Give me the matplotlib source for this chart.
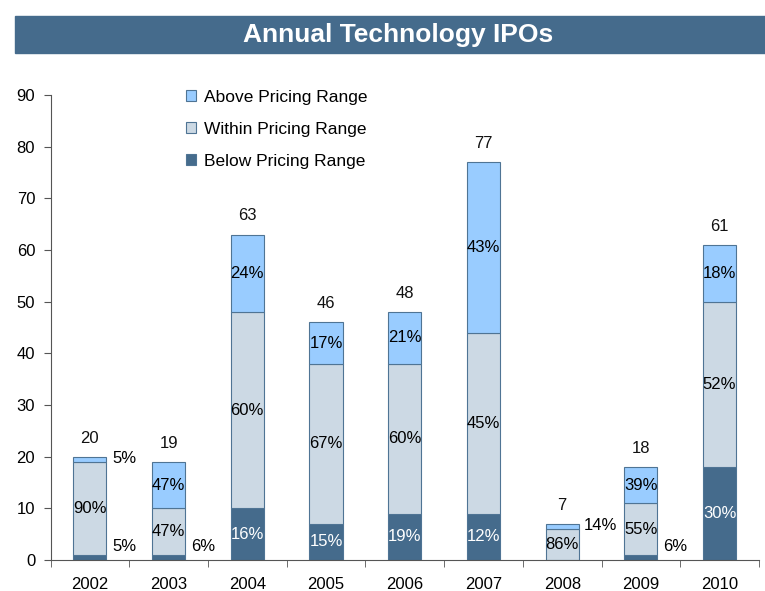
import matplotlib
matplotlib.use("Agg")
import matplotlib.pyplot as plt
from matplotlib.patches import Rectangle
import numpy as np

plt.rcParams['font.family'] = ['Liberation Sans', 'DejaVu Sans']

# data
years = ['2002', '2003', '2004', '2005', '2006', '2007', '2008', '2009', '2010']
below = [1, 1, 10, 7, 9, 9, 0, 1, 18]
within = [18, 9, 38, 31, 29, 35, 6, 10, 32]
above = [1, 9, 15, 8, 10, 33, 1, 7, 11]
totals = [20, 19, 63, 46, 48, 77, 7, 18, 61]
pct_below = ['5%', '6%', '16%', '15%', '19%', '12%', '', '6%', '30%']
pct_within = ['90%', '47%', '60%', '67%', '60%', '45%', '86%', '55%', '52%']
pct_above = ['5%', '47%', '24%', '17%', '21%', '43%', '14%', '39%', '18%']

c_above = '#99ccff'
c_within = '#ccd9e4'
c_below = '#456b8c'
edge = '#4f7494'

fig = plt.figure(figsize=(7.65, 5.91), dpi=100)

# title banner
fig.patches.append(Rectangle((15 / 765, 1 - 53 / 591), 750 / 765, 37 / 591,
                             transform=fig.transFigure, color='#456b8c', zorder=0))
fig.text(398 / 765, 1 - 35 / 591, 'Annual Technology IPOs', color='white',
         fontsize=19, fontweight='bold', ha='center', va='center')

ax = fig.add_axes([50.5 / 765, 1 - 560 / 591, (759 - 50.5) / 765, (560 - 95) / 591])
x = np.arange(len(years))
w = 0.42
below = np.array(below)
within = np.array(within)
above = np.array(above)

ax.bar(x, below, w, color=c_below, edgecolor=edge, linewidth=0.8, label='Below Pricing Range')
ax.bar(x, within, w, bottom=below, color=c_within, edgecolor=edge, linewidth=0.8,
       label='Within Pricing Range')
ax.bar(x, above, w, bottom=below + within, color=c_above, edgecolor=edge, linewidth=0.8,
       label='Above Pricing Range')

fs = 12
for i in range(len(years)):
    # totals on top
    ax.annotate(str(totals[i]), (x[i], totals[i]), xytext=(0, 8), textcoords='offset points',
                ha='center', va='bottom', fontsize=fs, color='#111111')
    # below segment
    if pct_below[i]:
        if below[i] >= 3:
            ax.text(x[i], below[i] / 2, pct_below[i], ha='center', va='center',
                    fontsize=fs, color='white')
        else:
            ax.text(x[i] + 0.28, 2.6, pct_below[i], ha='left', va='center', fontsize=fs)
    # within segment
    ax.text(x[i], below[i] + within[i] / 2, pct_within[i], ha='center', va='center', fontsize=fs)
    # above segment
    if above[i] >= 3:
        ax.text(x[i], below[i] + within[i] + above[i] / 2, pct_above[i],
                ha='center', va='center', fontsize=fs)
    else:
        ax.text(x[i] + 0.28, totals[i] - 0.3, pct_above[i], ha='left', va='center', fontsize=fs)

ax.set_xlim(-0.5, len(years) - 0.5)
ax.set_ylim(0, 90)
ax.set_yticks(np.arange(0, 91, 10))
ax.set_xticks(x)
ax.set_xticklabels(years)
ax.set_xticks(np.arange(-0.5, len(years), 1), minor=True)
ax.tick_params(axis='x', which='major', length=0, pad=12, labelsize=fs)
ax.tick_params(axis='x', which='minor', length=5, direction='out', color='#555555')
ax.tick_params(axis='y', length=5, direction='out', pad=6, labelsize=fs, color='#555555')
for s in ['top', 'right']:
    ax.spines[s].set_visible(False)
for s in ['left', 'bottom']:
    ax.spines[s].set_color('#555555')

handles, labels = ax.get_legend_handles_labels()
ax.legend(handles[::-1], labels[::-1], loc='upper left',
          bbox_to_anchor=(186 / 765, 1 - 90 / 591), bbox_transform=fig.transFigure,
          frameon=False, fontsize=12.5, handlelength=0.6, handleheight=0.6,
          handletextpad=0.45, labelspacing=0.98, borderpad=0, borderaxespad=0)

fig.savefig('out.png', dpi=100)
